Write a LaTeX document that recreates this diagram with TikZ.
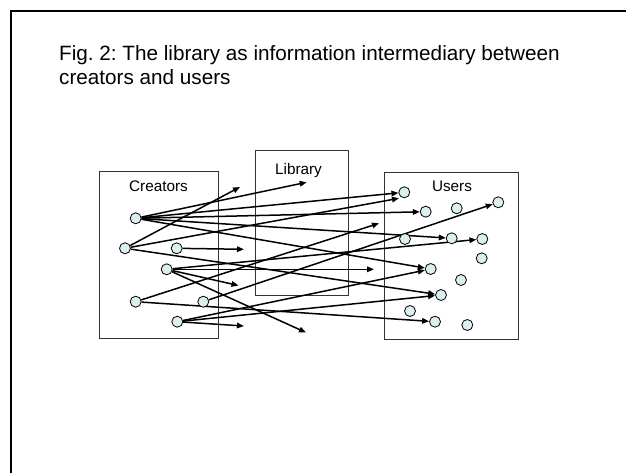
\documentclass[tikz,border=0pt]{standalone}
\usepackage{fontspec}
\setmainfont{Liberation Sans}
\usetikzlibrary{arrows.meta}
\pgfdeclarelayer{bg}
\pgfdeclarelayer{lines}
\pgfsetlayers{bg,lines,main}
\definecolor{dotfill}{HTML}{DCEFF0}
\frenchspacing
\tikzset{
  dot/.style={circle,draw=black,fill=dotfill,minimum size=11pt,inner sep=0pt,line width=0.8pt},
  arr/.style={-{Triangle[length=7pt,width=5.5pt]},line width=1.5pt,black},
  boxc/.style={draw=black!80,line width=1pt},
  lbl/.style={font=\fontsize{15.3}{18}\selectfont,inner sep=0pt,anchor=base},
  ttl/.style={font=\fontsize{20.7}{23.6}\selectfont,inner sep=0pt,anchor=base west}
}
\begin{document}
\begin{tikzpicture}[x=1pt,y=-1pt]
\useasboundingbox (0,0) rectangle (626,473);
\begin{pgfonlayer}{bg}
\fill[white] (0,0) rectangle (626,473);
\draw[line width=2pt,black] (11,480) -- (11,11) -- (640,11);
\draw[boxc] (99.3,171.7) rectangle (218.3,338);
\draw[boxc] (255,151) rectangle (348.3,295.5);
\draw[boxc] (384.3,172.3) rectangle (518.3,339.3);
\end{pgfonlayer}
% title
\node[ttl] (title1) at (59,61) {Fig. 2: The library as information intermediary between};
\node[ttl] (title2) at (59,84.3) {creators and users};
\node[lbl] (lcre) at (158.5,191.7) {Creators};
\node[lbl] (llib) at (298.5,175) {Library};
\node[lbl] (luse) at (452,191.7) {Users};
% creator dots
\node[dot] (C1) at (135.7,218.3) {};
\node[dot] (C2) at (125,248.3) {};
\node[dot] (C3) at (176.7,248.3) {};
\node[dot] (C4) at (166.7,269.3) {};
\node[dot] (C5) at (135.7,301.7) {};
\node[dot] (C6) at (203.3,301.7) {};
\node[dot] (C7) at (177.3,321.7) {};
% user dots
\node[dot] (U1) at (404.3,192.3) {};
\node[dot] (U2) at (425.7,211.7) {};
\node[dot] (U3) at (456.7,208.3) {};
\node[dot] (U4) at (498.3,202.3) {};
\node[dot] (U5) at (405,239) {};
\node[dot] (U6) at (451.7,238.3) {};
\node[dot] (U7) at (482.3,239) {};
\node[dot] (U8) at (481.7,258.3) {};
\node[dot] (U9) at (430.7,269) {};
\node[dot] (U10) at (461,280) {};
\node[dot] (U11) at (441,295) {};
\node[dot] (U12) at (410,311) {};
\node[dot] (U13) at (435,321.7) {};
\node[dot] (U14) at (467.3,325) {};
% free ends
\coordinate (T1) at (240,187);
\coordinate (T2) at (306.7,182.3);
\coordinate (T4) at (399,198.3);
\coordinate (T6) at (379,223.3);
\coordinate (T10) at (244,249.3);
\coordinate (T11) at (374,269.3);
\coordinate (T13) at (238.5,285.5);
\coordinate (T15) at (306,332.5);
\coordinate (T16) at (244,326);
\begin{pgfonlayer}{lines}
\draw[arr] (C1) -- (T2);
\draw[arr] (C1) -- (U1);
\draw[arr] (C1) -- (U2);
\draw[arr] (C1) -- (U6);
\draw[arr] (C1) -- (U9);
\draw[arr] (C2) -- (T1);
\draw[arr] (C2) -- (T4);
\draw[arr] (C2) -- (U11);
\draw[arr] (C3) -- (T10);
\draw[arr] (C4) -- (T11);
\draw[arr] (C4) -- (U7);
\draw[arr] (C4) -- (T13);
\draw[arr] (C4) -- (T15);
\draw[arr] (C5) -- (T6);
\draw[arr] (C5) -- (U13);
\draw[arr] (C6) -- (U4);
\draw[arr] (C7) -- (T16);
\draw[arr] (C7) -- (U9);
\draw[arr] (C7) -- (U11);
\end{pgfonlayer}
\end{tikzpicture}
\end{document}
